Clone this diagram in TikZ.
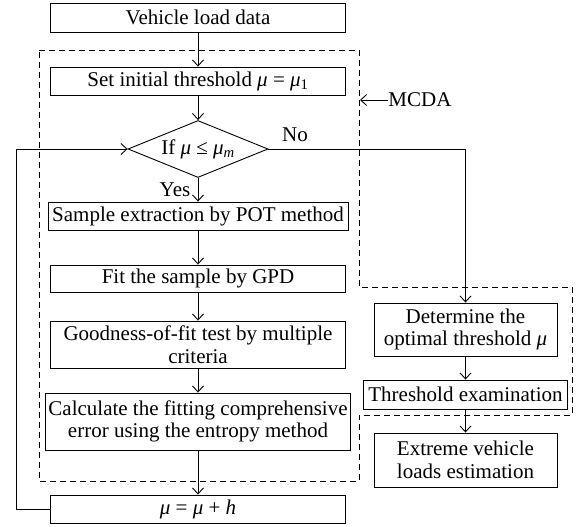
\documentclass[tikz,border=0pt]{standalone}
\usepackage{fontspec}
\setmainfont{Liberation Serif}
\usetikzlibrary{arrows.meta,shapes.geometric}
\newcommand{\mmu}{\textit{μ}}
\begin{document}
\begin{tikzpicture}[x=1pt,y=-1pt,
  font=\fontsize{21}{22.5}\selectfont,
  line width=0.9pt,
  box/.style={draw, align=center, inner sep=1pt},
  arr/.style={-{Straight Barb[length=6pt,width=11pt]}},
  dash box/.style={draw, dash pattern=on 6pt off 4pt},
  lbl/.style={inner sep=0pt}]
\useasboundingbox (0,0) rectangle (576,527);
% dashed MCDA region
\draw[dash box] (39,50) -- (359,50) -- (359,287) -- (572,287) -- (572,415) -- (359,415) -- (359,481) -- (39,481) -- cycle;
% nodes
\node[box, minimum width=295pt, minimum height=29pt] (vld) at (198,17.5) {Vehicle load data};
\node[box, minimum width=295pt, minimum height=28pt] (init) at (198,81) {Set initial threshold \mmu{} = \mmu\textsubscript{1}};
\node[draw, diamond, inner sep=0pt, minimum width=140pt, minimum height=57pt] (dia) at (198,149) {\makebox[0pt]{If \mmu{} ≤ \mmu\textsubscript{\itshape m}}};
\node[box, minimum width=300pt, minimum height=28pt] (sam) at (198,216) {Sample extraction by POT method};
\node[box, minimum width=295pt, minimum height=27pt] (fit) at (198,278.5) {Fit the sample by GPD};
\node[box, minimum width=295pt, minimum height=47pt] (good) at (198,344.5) {Goodness-of-fit test by multiple\\criteria};
\node[box, minimum width=305pt, minimum height=57pt] (calc) at (198,421.5) {Calculate the fitting comprehensive\\error using the entropy method};
\node[box, minimum width=295pt, minimum height=28pt] (muh) at (198,509) {\mmu{} = \mmu{} + \textit{h}};
\node[box, minimum width=183pt, minimum height=53pt] (det) at (465.5,329.5) {Determine the\\optimal threshold \mmu};
\node[box, minimum width=204pt, minimum height=29pt] (thr) at (465.5,394.5) {Threshold examination};
\node[box, minimum width=183pt, minimum height=54pt] (ext) at (465.5,460) {Extreme vehicle\\loads estimation};
% labels
\node[lbl] (yes) at (175,190) {Yes};
\node[lbl] (no) at (295,135) {No};
\node[lbl, anchor=west] (mcda) at (388,100) {MCDA};
\coordinate (mcdatip) at (360,100);
\coordinate (loopb) at (16,509);
\coordinate (loopt) at (16,149);
\coordinate (noc) at (465.5,149);
% connectors
\draw[arr] (vld) -- (init);
\draw[arr] (init) -- (dia);
\draw[arr] (dia) -- (sam);
\draw[arr] (sam) -- (fit);
\draw[arr] (fit) -- (good);
\draw[arr] (good) -- (calc);
\draw[arr] (calc) -- (muh);
\draw[arr] (muh.west) -- (loopb) -- (loopt) -- (dia.west);
\draw[arr] (dia.east) -- (noc) -- (det.north);
\draw[arr] (det) -- (thr);
\draw[arr] (thr) -- (ext);
\draw[arr] (mcda.west) -- (mcdatip);
\end{tikzpicture}
\end{document}
